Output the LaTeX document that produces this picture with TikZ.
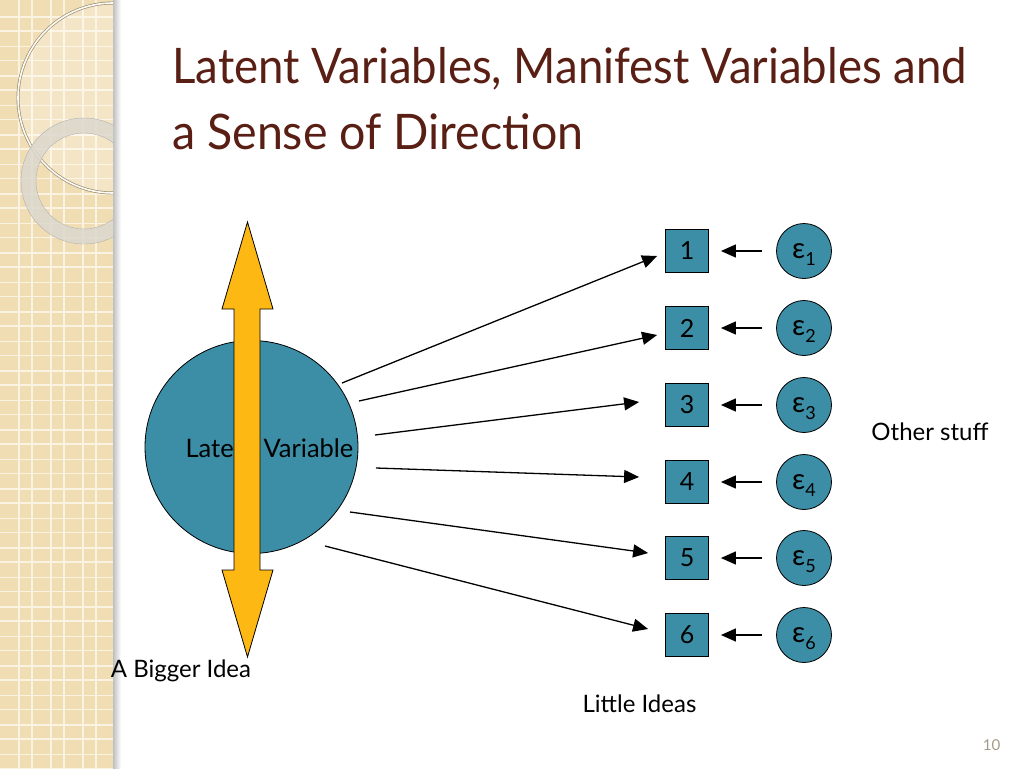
\documentclass[tikz,border=0pt]{standalone}
\usepackage{fontspec}
\setmainfont{Lato}
\usetikzlibrary{arrows.meta}
\definecolor{band}{HTML}{F0DDB4}
\definecolor{gridc}{HTML}{FBF3E2}
\definecolor{tealc}{HTML}{3B8EA6}
\definecolor{goldc}{HTML}{FDB813}
\definecolor{titlec}{HTML}{5A1F14}
\definecolor{pagenum}{HTML}{A39B86}
\definecolor{ringc}{HTML}{DCD8CE}
\newcommand{\epsl}[1]{{\fontsize{29}{30}\selectfont ε}\raisebox{-7pt}[0pt][0pt]{\fontsize{18}{18}\selectfont #1}}
\begin{document}
\begin{tikzpicture}[x=1pt,y=-1pt,
  mbox/.style={draw=black, line width=0.8pt, fill=tealc, minimum size=43pt, inner sep=0pt, font=\fontsize{25}{28}\selectfont},
  errc/.style={circle, draw=black, line width=0.8pt, fill=tealc, minimum size=55pt, inner sep=0pt},
  link/.style={line width=1.3pt, -{Triangle[length=15pt,width=13pt]}},
  lbl/.style={font=\fontsize{24}{28}\selectfont, inner sep=0pt, anchor=base},
  ttl/.style={font=\fontsize{49}{56}\selectfont, inner sep=0pt, anchor=base west, text=titlec}]
% page
\fill[white] (0,0) rectangle (1024,768);
\useasboundingbox (0,0) rectangle (1024,768);
% left band
\fill[left color=black!25, right color=white] (113,0) rectangle (121,768);
\begin{scope}
\clip (0,0) rectangle (113,768);
\fill[band] (0,0) rectangle (113,768);
\foreach \k in {0,...,3} {
  \draw[gridc, line width=1.8pt] ({19+32*\k},0) -- ({19+32*\k},768);
  \draw[gridc, line width=1.8pt] ({32+32*\k},0) -- ({32+32*\k},768);
}
\foreach \k in {0,...,26} {
  \draw[gridc, line width=1.8pt] (0,{17+29.5*\k}) -- (113,{17+29.5*\k});
  \draw[gridc, line width=1.8pt] (0,{31+29.5*\k}) -- (113,{31+29.5*\k});
}
\fill[white, opacity=0.25] (113,98) circle (95);
\draw[black!35!band, line width=3pt] (113,98) circle (95);
\draw[white!85!band, line width=1.6pt] (113,98) circle (95);
\fill[ringc, opacity=0.85, even odd rule] (84,181) circle (63) (84,181) circle (48);
\draw[black!30, line width=0.4pt] (84,181) circle (63) (84,181) circle (48);
\end{scope}
% title
\node[ttl] (t1) at (172,83) {\scalebox{0.93}[1]{Latent Variables, Manifest Variables and}};
\node[ttl] (t2) at (172,149) {\scalebox{0.95}[1]{a Sense of Direction}};
% latent variable
\node[circle, draw=black, line width=0.8pt, fill=tealc, minimum size=213pt, inner sep=0pt] (lv) at (251.5,447) {};
\node[lbl, font=\fontsize{25.5}{28}\selectfont] (lvt) at (269.5,457) {Latent Variable};
\draw[fill=goldc, line width=0.8pt] (247.5,222) -- (273,309) -- (260,309) -- (260,570) -- (273,570) -- (247.5,657) -- (222,570) -- (234,570) -- (234,309) -- (222,309) -- cycle;
% observed boxes and errors
\foreach \i/\y in {1/251,2/328,3/405,4/482,5/558,6/635} {
  \node[mbox] (b\i) at (687,\y) {\i};
  \node[errc] (e\i) at (804,\y) {\epsl{\i}};
  \draw[link, shorten <=14pt, shorten >=12pt] (e\i.west) -- (b\i.east);
}
% paths from latent
\coordinate (s1) at (342,383);
\coordinate (s2) at (359,401);
\coordinate (s3) at (375,435);
\coordinate (s4) at (376,468);
\coordinate (s5) at (350,512);
\coordinate (s6) at (325,546);
\draw[link] (s1) -- ([shift={(-8,5)}]b1.west);
\draw[link] (s2) -- ([shift={(-8,7)}]b2.west);
\draw[link] (s3) -- ([shift={(-26,-3)}]b3.west);
\draw[link] (s4) -- ([shift={(-26,-5)}]b4.west);
\draw[link] (s5) -- ([shift={(-17,-5)}]b5.west);
\draw[link] (s6) -- ([shift={(-17,-6)}]b6.west);
% labels
\node[lbl] (other) at (930,440) {Other stuff};
\node[lbl] (bigger) at (181,677) {A Bigger Idea};
\node[lbl] (little) at (639.5,712) {Little Ideas};
\node[lbl, font=\fontsize{15}{18}\selectfont, text=pagenum] (pg) at (991.5,750) {10};
\end{tikzpicture}
\end{document}
